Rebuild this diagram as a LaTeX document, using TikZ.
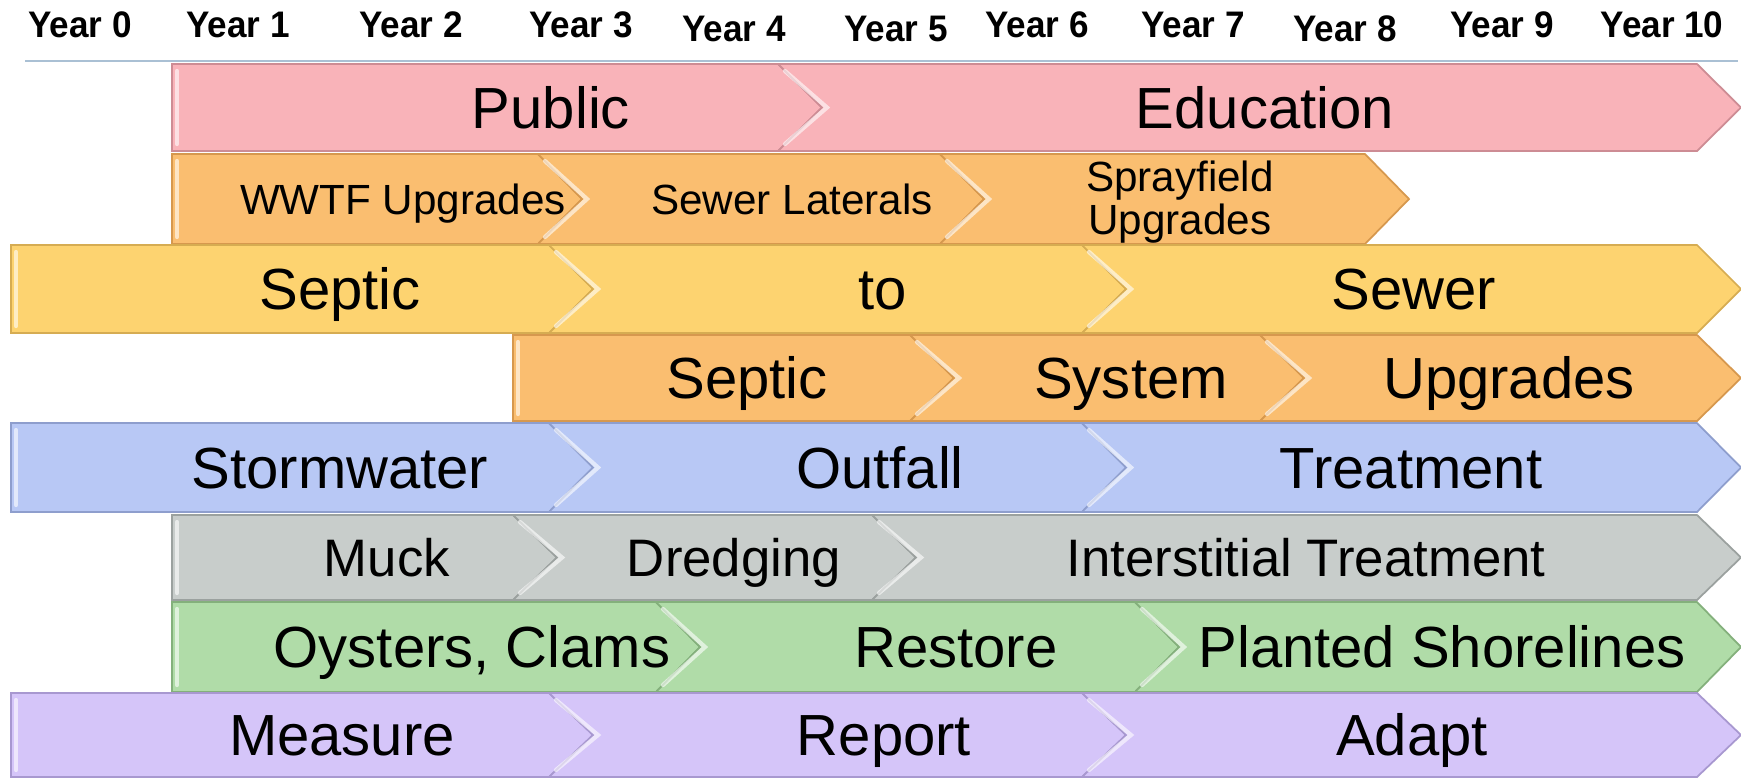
\documentclass[tikz,border=0pt]{standalone}
\usepackage{fontspec}
\setmainfont{Liberation Sans}
\newfontfamily\yearfont[FakeStretch=0.95]{Liberation Sans}
\usepackage{tikz}
\usetikzlibrary{positioning}

\definecolor{pinkFill}{RGB}{249,179,185}
\definecolor{pinkEdge}{RGB}{205,140,148}
\definecolor{orangeFill}{RGB}{250,190,112}
\definecolor{orangeEdge}{RGB}{214,152,78}
\definecolor{yellowFill}{RGB}{253,211,112}
\definecolor{yellowEdge}{RGB}{214,172,82}
\definecolor{blueFill}{RGB}{184,200,245}
\definecolor{blueEdge}{RGB}{142,158,205}
\definecolor{grayFill}{RGB}{200,205,203}
\definecolor{grayEdge}{RGB}{155,161,159}
\definecolor{greenFill}{RGB}{176,220,168}
\definecolor{greenEdge}{RGB}{132,176,124}
\definecolor{purpleFill}{RGB}{213,197,249}
\definecolor{purpleEdge}{RGB}{168,152,208}
\definecolor{ruleLine}{RGB}{170,192,212}

\tikzset{ChevronPiece/.style={%
    line width=0.5pt,%
    line join=miter,%
}}
\tikzset{PinkRow/.style={ChevronPiece, fill=pinkFill, draw=pinkEdge}}
\tikzset{OrangeRow/.style={ChevronPiece, fill=orangeFill, draw=orangeEdge}}
\tikzset{YellowRow/.style={ChevronPiece, fill=yellowFill, draw=yellowEdge}}
\tikzset{BlueRow/.style={ChevronPiece, fill=blueFill, draw=blueEdge}}
\tikzset{GrayRow/.style={ChevronPiece, fill=grayFill, draw=grayEdge}}
\tikzset{GreenRow/.style={ChevronPiece, fill=greenFill, draw=greenEdge}}
\tikzset{PurpleRow/.style={ChevronPiece, fill=purpleFill, draw=purpleEdge}}
\tikzset{Glint/.style={%
    draw=white,%
    opacity=0.6,%
    line width=1.2pt,%
    line cap=round,%
}}
\tikzset{YearLabel/.style={%
    anchor=base,%
    inner sep=0pt,%
    font=\yearfont\bfseries\fontsize{10.5}{12}\selectfont,%
}}
\tikzset{BigLabel/.style={%
    inner sep=0pt,%
    text height=11.8pt,%
    text depth=0pt,%
    font=\fontsize{16.5}{19}\selectfont,%
}}
\tikzset{MidLabel/.style={%
    inner sep=0pt,%
    text height=10.7pt,%
    text depth=0pt,%
    font=\fontsize{15}{18}\selectfont,%
}}
\tikzset{SmallLabel/.style={%
    inner sep=0pt,%
    text height=8.6pt,%
    text depth=0pt,%
    font=\fontsize{12}{14}\selectfont,%
}}

\newcommand{\chevDepth}{44}
\NewDocumentCommand{\chevronPiece}{s m m m m m}{%
    \IfBooleanTF{#1}{%
        \filldraw[#2] (#3,#5) -- (#4,#5) -- ({#4+\chevDepth},{(#5+#6)/2})
            -- (#4,#6) -- (#3,#6) -- cycle;
        \draw[Glint] ({#3+5},{#5+7}) -- ({#3+5},{#6-7});
    }{%
        \filldraw[#2] (#3,#5) -- (#4,#5) -- ({#4+\chevDepth},{(#5+#6)/2})
            -- (#4,#6) -- (#3,#6) -- ({#3+\chevDepth},{(#5+#6)/2}) -- cycle;
        \draw[Glint] ({#3+7},{#5+7}) -- ({#3+\chevDepth+5},{(#5+#6)/2}) -- ({#3+7},{#6-7});
    }%
}

\begin{document}
\begin{tikzpicture}[x=0.01cm, y=-0.01cm]
    \useasboundingbox (0,0) rectangle (1741,778);

    % year header
    \node[YearLabel] (y0) at (80,37) {Year 0};
    \node[YearLabel] (y1) at (238,37) {Year 1};
    \node[YearLabel] (y2) at (411,37) {Year 2};
    \node[YearLabel] (y3) at (581,37) {Year 3};
    \node[YearLabel] (y4) at (734,41) {Year 4};
    \node[YearLabel] (y5) at (896,41) {Year 5};
    \node[YearLabel] (y6) at (1037,37) {Year 6};
    \node[YearLabel] (y7) at (1193,37) {Year 7};
    \node[YearLabel] (y8) at (1345,41) {Year 8};
    \node[YearLabel] (y9) at (1502,37) {Year 9};
    \node[YearLabel] (y10) at (1662,37) {Year 10};
    \coordinate (ruleL) at (25,61);
    \coordinate (ruleR) at (1738,61);
    \draw[ruleLine, line width=0.6pt] (ruleL) -- (ruleR);

    % public education
    \chevronPiece*{PinkRow}{172}{778}{64}{151}
    \chevronPiece{PinkRow}{778}{1697}{64}{151}
    \node[BigLabel] (r1a) at (551,107.5) {Public};
    \node[BigLabel] (r1b) at (1265,107.5) {Education};

    % plant upgrades
    \chevronPiece*{OrangeRow}{172}{538}{154}{244}
    \chevronPiece{OrangeRow}{538}{940}{154}{244}
    \chevronPiece{OrangeRow}{940}{1365}{154}{244}
    \node[SmallLabel] (r2a) at (403,199) {WWTF Upgrades};
    \node[SmallLabel] (r2b) at (792,199) {Sewer Laterals};
    \node[inner sep=0pt, align=center, font=\fontsize{12}{9.5}\selectfont] (r2c) at (1180,202) {Sprayfield\\Upgrades};

    % septic to sewer
    \chevronPiece*{YellowRow}{11}{549}{245}{333}
    \chevronPiece{YellowRow}{549}{1082}{245}{333}
    \chevronPiece{YellowRow}{1082}{1697}{245}{333}
    \node[BigLabel] (r3a) at (340,289) {Septic};
    \node[BigLabel] (r3b) at (883,289) {to};
    \node[BigLabel] (r3c) at (1414,289) {Sewer};

    % septic system upgrades
    \chevronPiece*{OrangeRow}{513}{910}{335}{421}
    \chevronPiece{OrangeRow}{910}{1260}{335}{421}
    \chevronPiece{OrangeRow}{1260}{1697}{335}{421}
    \node[BigLabel] (r4a) at (747,378) {Septic};
    \node[BigLabel] (r4b) at (1131,378) {System};
    \node[BigLabel] (r4c) at (1509,378) {Upgrades};

    % stormwater
    \chevronPiece*{BlueRow}{11}{549}{423}{512}
    \chevronPiece{BlueRow}{549}{1082}{423}{512}
    \chevronPiece{BlueRow}{1082}{1697}{423}{512}
    \node[BigLabel] (r5a) at (340,467.5) {Stormwater};
    \node[BigLabel] (r5b) at (880,467.5) {Outfall};
    \node[BigLabel] (r5c) at (1411,467.5) {Treatment};

    % muck
    \chevronPiece*{GrayRow}{172}{513}{515}{600}
    \chevronPiece{GrayRow}{513}{872}{515}{600}
    \chevronPiece{GrayRow}{872}{1697}{515}{600}
    \node[MidLabel] (r6a) at (387,557.5) {Muck};
    \node[MidLabel] (r6b) at (734,557.5) {Dredging};
    \node[MidLabel] (r6c) at (1306,557.5) {Interstitial Treatment};

    % restore
    \chevronPiece*{GreenRow}{172}{656}{602}{692}
    \chevronPiece{GreenRow}{656}{1135}{602}{692}
    \chevronPiece{GreenRow}{1135}{1697}{602}{692}
    \node[BigLabel] (r7a) at (472,647) {Oysters, Clams};
    \node[BigLabel] (r7b) at (956,647) {Restore};
    \node[BigLabel] (r7c) at (1442,647) {Planted Shorelines};

    % measure report adapt
    \chevronPiece*{PurpleRow}{11}{549}{693}{777}
    \chevronPiece{PurpleRow}{549}{1082}{693}{777}
    \chevronPiece{PurpleRow}{1082}{1697}{693}{777}
    \node[BigLabel] (r8a) at (342,735) {Measure};
    \node[BigLabel] (r8b) at (884,735) {Report};
    \node[BigLabel] (r8c) at (1412,735) {Adapt};
\end{tikzpicture}
\end{document}
